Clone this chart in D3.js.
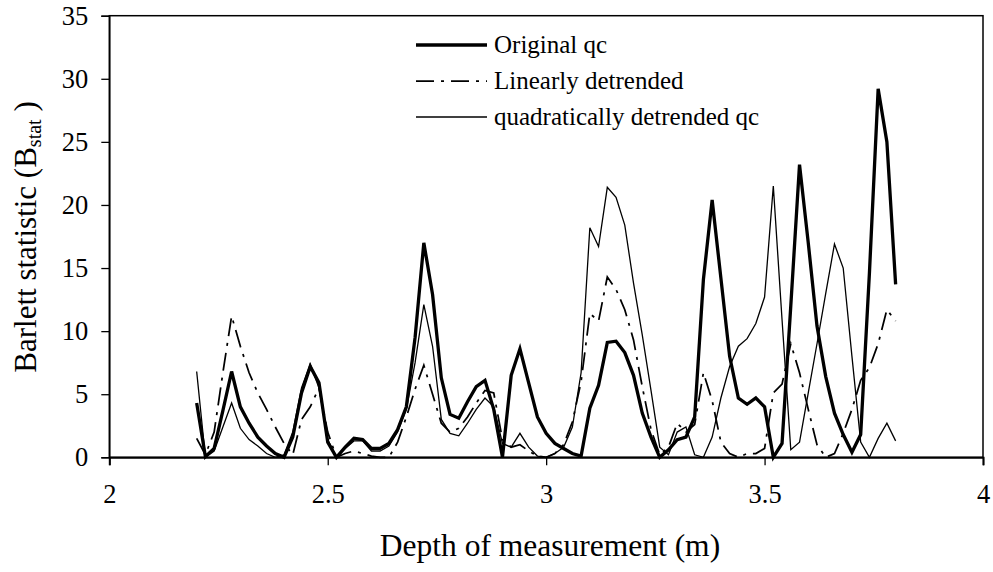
<!DOCTYPE html>
<html>
<head>
<meta charset="utf-8">
<script src="https://cdn.jsdelivr.net/npm/d3@7"></script>
<style>
  html, body { margin: 0; padding: 0; background: #fff; }
  svg { display: block; }
  text { font-family: "Liberation Serif", "Times New Roman", serif; fill: #000; }
</style>
</head>
<body>
<svg id="chart" width="993" height="572"></svg>
<script>
// ---------------- data ----------------
const depth = [2.20, 2.22, 2.24, 2.26, 2.28, 2.30, 2.32, 2.34, 2.36, 2.38,
  2.40, 2.42, 2.44, 2.46, 2.48, 2.50, 2.52, 2.54, 2.56, 2.58,
  2.60, 2.62, 2.64, 2.66, 2.68, 2.70, 2.72, 2.74, 2.76, 2.78,
  2.80, 2.82, 2.84, 2.86, 2.88, 2.90, 2.92, 2.94, 2.96, 2.98,
  3.00, 3.02, 3.04, 3.06, 3.08, 3.10, 3.12, 3.14, 3.16, 3.18,
  3.20, 3.22, 3.24, 3.26, 3.28, 3.30, 3.32, 3.34, 3.36, 3.38,
  3.40, 3.42, 3.44, 3.46, 3.48, 3.50, 3.52, 3.54, 3.56, 3.58,
  3.60, 3.62, 3.64, 3.66, 3.68, 3.70, 3.72, 3.74, 3.76, 3.78, 3.80];

const originalQc = [4.3, 0.05, 0.7, 3.7, 6.8, 4.0, 2.7, 1.6, 0.9, 0.3,
  0.0, 1.6, 5.1, 7.2, 5.9, 1.2, 0.0, 0.8, 1.5, 1.4,
  0.7, 0.7, 1.1, 2.2, 4.0, 9.5, 17.0, 12.9, 6.3, 3.4,
  3.1, 4.4, 5.6, 6.1, 3.8, 0.0, 6.5, 8.6, 5.9, 3.2,
  1.9, 1.1, 0.7, 0.3, 0.1, 3.9, 5.7, 9.1, 9.2, 8.3,
  6.5, 3.5, 1.6, 0.0, 0.6, 1.4, 1.6, 3.2, 14.1, 20.4,
  14.2, 8.0, 4.7, 4.2, 4.7, 4.0, 0.0, 1.1, 12.0, 23.2,
  17.0, 10.4, 6.4, 3.5, 1.8, 0.4, 1.8, 14.6, 29.2, 25.0, 13.7];

const linearlyDetrended = [1.5, 0.2, 2.0, 6.7, 11.2, 8.8, 6.7, 5.1, 3.8, 2.4,
  1.1, 0.2, 3.0, 4.0, 5.5, 2.0, 0.0, 0.3, 0.5, 0.3,
  0.1, 0.0, 0.0, 1.2, 3.2, 5.4, 7.3, 5.0, 2.7, 2.0,
  2.3, 3.2, 4.3, 5.3, 5.1, 1.4, 0.8, 1.0, 0.5, 0.1,
  0.0, 0.3, 1.0, 2.8, 6.0, 11.4, 10.8, 14.3, 13.3, 11.7,
  9.3, 5.6, 2.2, 0.2, 0.8, 2.7, 2.0, 2.6, 6.7, 4.5,
  1.2, 0.3, 0.0, 0.3, 0.3, 0.7, 5.1, 5.8, 9.0, 6.7,
  3.8, 1.0, 0.0, 0.3, 1.9, 3.8, 6.1, 7.1, 9.0, 11.7, 10.8];

const quadraticallyDetrended = [6.8, 0.0, 0.5, 2.4, 4.3, 2.3, 1.4, 0.9, 0.3, 0.0,
  0.2, 2.0, 5.5, 7.4, 5.5, 1.4, 0.0, 0.7, 1.3, 1.3,
  0.5, 0.5, 0.9, 2.0, 3.8, 7.5, 12.1, 8.8, 3.0, 1.9,
  1.7, 2.7, 3.8, 4.7, 4.0, 1.1, 0.8, 1.9, 0.8, 0.1,
  0.0, 0.3, 0.8, 2.4, 6.7, 18.2, 16.7, 21.4, 20.6, 18.4,
  13.8, 9.7, 5.3, 0.8, 0.2, 2.0, 2.4, 0.2, 0.0, 1.6,
  4.7, 7.2, 8.8, 9.4, 10.6, 12.7, 21.5, 10.9, 0.6, 1.2,
  5.1, 9.0, 13.0, 16.9, 15.0, 8.0, 1.2, 0.0, 1.5, 2.7, 1.3];

const seriesNames = ["Original qc", "Linearly detrended", "quadratically detrended qc"];
const xTicks = [2, 2.5, 3, 3.5, 4];
const yTicks = [0, 5, 10, 15, 20, 25, 30, 35];

// ---------------- layout ----------------
const svg = d3.select("#chart");
const L = 109.3, R = 983, T = 15.7, B = 457.3;

const x = d3.scaleLinear().domain([2, 4]).range([L, R]);
const y = d3.scaleLinear().domain([0, 35]).range([B, T]);

svg.append("rect").attr("width", 993).attr("height", 572).attr("fill", "#fff");

// plot border
svg.append("rect")
  .attr("x", L).attr("y", T).attr("width", R - L).attr("height", B - T)
  .attr("fill", "none").attr("stroke", "#000").attr("stroke-width", 1.5);

// axes
const xAxis = d3.axisBottom(x).tickValues(xTicks).tickSize(8).tickPadding(19)
  .tickFormat(d => String(d));
const gx = svg.append("g").attr("transform", `translate(0,${B})`).call(xAxis);
gx.select(".domain").attr("stroke-width", 2);
gx.selectAll(".tick line").attr("stroke-width", 1.3);
gx.selectAll("text").attr("font-size", 26.5).attr("font-family", "Liberation Serif");

const yAxis = d3.axisLeft(y).tickValues(yTicks).tickSize(8).tickPadding(13);
const gy = svg.append("g").attr("transform", `translate(${L},0)`).call(yAxis);
gy.select(".domain").attr("stroke-width", 1.5);
gy.selectAll(".tick line").attr("stroke-width", 1.3);
gy.selectAll("text").attr("font-size", 26.5).attr("font-family", "Liberation Serif");

// lines
const styles = [
  { data: originalQc, width: 3.3, dash: null },
  { data: linearlyDetrended, width: 1.75, dash: "18,7,3,7" },
  { data: quadraticallyDetrended, width: 1.3, dash: null }
];
const line = d3.line().x(d => x(d[0])).y(d => y(d[1]));

// draw order: thin, dash, thick on top
[2, 1, 0].forEach(i => {
  const s = styles[i];
  svg.append("path")
    .datum(depth.map((d, j) => [d, s.data[j]]))
    .attr("d", line)
    .attr("fill", "none")
    .attr("stroke", "#000")
    .attr("stroke-width", s.width)
    .attr("stroke-linejoin", "miter")
    .attr("stroke-dasharray", s.dash);
});

// legend
const legX1 = 416, legX2 = 487, legTextX = 494;
const legY = [45, 81, 117];
styles.forEach((s, i) => {
  svg.append("line")
    .attr("x1", legX1).attr("x2", legX2)
    .attr("y1", legY[i]).attr("y2", legY[i])
    .attr("stroke", "#000").attr("stroke-width", s.width)
    .attr("stroke-dasharray", s.dash);
  svg.append("text")
    .attr("x", legTextX).attr("y", legY[i]).attr("dy", "0.33em")
    .attr("font-size", 25)
    .text(seriesNames[i]);
});

// axis titles
svg.append("text")
  .attr("x", 550).attr("y", 556)
  .attr("text-anchor", "middle").attr("font-size", 31.5)
  .text("Depth of measurement (m)");

const yt = svg.append("text")
  .attr("transform", `translate(36,237) rotate(-90)`)
  .attr("text-anchor", "middle").attr("font-size", 31);
yt.append("tspan").text("Barlett statistic (B");
yt.append("tspan").attr("font-size", 20).attr("dy", 5).text("stat");
yt.append("tspan").attr("dy", -5).text(" )");
</script>
</body>
</html>
